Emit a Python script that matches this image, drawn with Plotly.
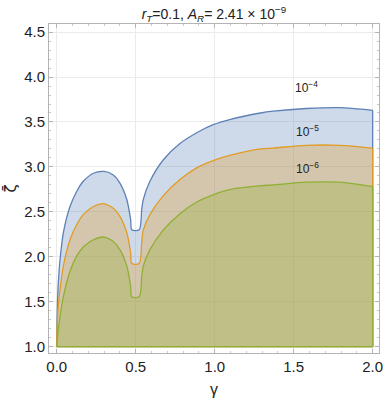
import plotly.graph_objects as go

gamma = [0.0, 0.003, 0.01, 0.021, 0.042, 0.084, 0.127, 0.168, 0.232, 0.30, 0.358, 0.40,
         0.443, 0.468, 0.475, 0.522, 0.538, 0.548, 0.59, 0.675, 0.78, 0.886, 0.99, 1.10,
         1.29, 1.37, 1.58, 1.79, 2.0]
zeta_1e4 = [1.0, 1.39, 1.71, 1.97, 2.27, 2.56, 2.73, 2.84, 2.93, 2.95, 2.91, 2.82,
            2.64, 2.41, 2.30, 2.30, 2.53, 2.64, 2.84, 3.08, 3.26, 3.38, 3.47, 3.53,
            3.60, 3.62, 3.65, 3.66, 3.63]
zeta_1e5 = [1.0, 1.25, 1.45, 1.64, 1.90, 2.19, 2.36, 2.47, 2.56, 2.59, 2.54, 2.45,
            2.27, 2.04, 1.925, 1.925, 2.16, 2.30, 2.47, 2.68, 2.86, 2.99, 3.07, 3.13,
            3.20, 3.21, 3.24, 3.24, 3.21]
zeta_1e6 = [1.0, 1.06, 1.19, 1.34, 1.56, 1.84, 2.01, 2.11, 2.19, 2.22, 2.17, 2.08,
            1.90, 1.67, 1.556, 1.556, 1.78, 1.90, 2.08, 2.30, 2.48, 2.61, 2.69, 2.75,
            2.79, 2.80, 2.83, 2.83, 2.78]
zeta_floor = 1.0
labels = ["10<sup>−4</sup>", "10<sup>−5</sup>", "10<sup>−6</sup>"]
label_x = [1.58, 1.59, 1.59]
label_y = [3.89, 3.40, 2.99]

series = [
    (zeta_1e4, "#5E81B5", "rgba(94,129,181,0.3)"),
    (zeta_1e5, "#E19C24", "rgba(225,156,36,0.3)"),
    (zeta_1e6, "#8FB032", "rgba(143,176,50,0.3)"),
]

fig = go.Figure()
for ys, lc, fc in series:
    fig.add_trace(go.Scatter(
        x=[gamma[0], gamma[-1]], y=[zeta_floor, zeta_floor], mode="lines",
        line=dict(color=lc, width=1.3), hoverinfo="skip", showlegend=False))
    fig.add_trace(go.Scatter(
        x=gamma, y=ys, mode="lines", fill="tonexty", fillcolor=fc,
        line=dict(color=lc, width=1.3, shape="spline", smoothing=0.8),
        hoverinfo="skip", showlegend=False))
    fig.add_trace(go.Scatter(
        x=[gamma[-1], gamma[-1]], y=[ys[-1], zeta_floor], mode="lines",
        line=dict(color=lc, width=1.3), hoverinfo="skip", showlegend=False))

for t, xx, yy in zip(labels, label_x, label_y):
    fig.add_annotation(x=xx, y=yy, text=t, showarrow=False,
                       font=dict(family="Liberation Sans, Arial", size=12, color="#222"))

axis_common = dict(
    showline=True, linecolor="#B4B4B4", linewidth=1, mirror="allticks",
    ticks="inside", ticklen=4, tickcolor="#B4B4B4",
    showgrid=True, gridcolor="#EBEBEB", gridwidth=1, zeroline=False,
    tickfont=dict(family="Liberation Sans, Arial", size=15, color="#222"),
    automargin=False,
)

fig.update_xaxes(range=[-0.049, 2.04], tickvals=[0, 0.5, 1.0, 1.5, 2.0],
                 ticktext=["0.0", "0.5", "1.0", "1.5", "2.0"],
                 minor=dict(dtick=0.1, tick0=0, ticks="inside", ticklen=2, tickcolor="#C8C8C8", showgrid=False),
                 title=dict(text="γ", font=dict(family="Liberation Sans, Arial", size=16, color="#222"), standoff=12),
                 **axis_common)
fig.update_yaxes(range=[0.93, 4.59], tickvals=[1.0, 1.5, 2.0, 2.5, 3.0, 3.5, 4.0, 4.5],
                 ticktext=["1.0", "1.5", "2.0", "2.5", "3.0", "3.5", "4.0", "4.5"],
                 minor=dict(dtick=0.1, tick0=0, ticks="inside", ticklen=2, tickcolor="#C8C8C8", showgrid=False),
                 title=dict(text="ζ\u0304", font=dict(family="DejaVu Sans", size=15, color="#222"), standoff=3),
                 **axis_common)

fig.update_layout(
    width=384, height=398,
    margin=dict(l=49, r=5, t=24, b=45),
    plot_bgcolor="white", paper_bgcolor="white",
    title=dict(text="<i>r</i><sub><i>T</i></sub>=0.1, <i>A</i><sub><i>R</i></sub>= 2.41 × 10<sup>−9</sup>",
               x=0.557, xanchor="center", y=1 - 14 / 398, yanchor="middle", yref="container",
               font=dict(family="Liberation Sans, Arial", size=14, color="#222")),
)

fig.write_html("out.html", config={"displayModeBar": False},
               post_script="document.body.style.margin='0';document.body.style.padding='0';")
